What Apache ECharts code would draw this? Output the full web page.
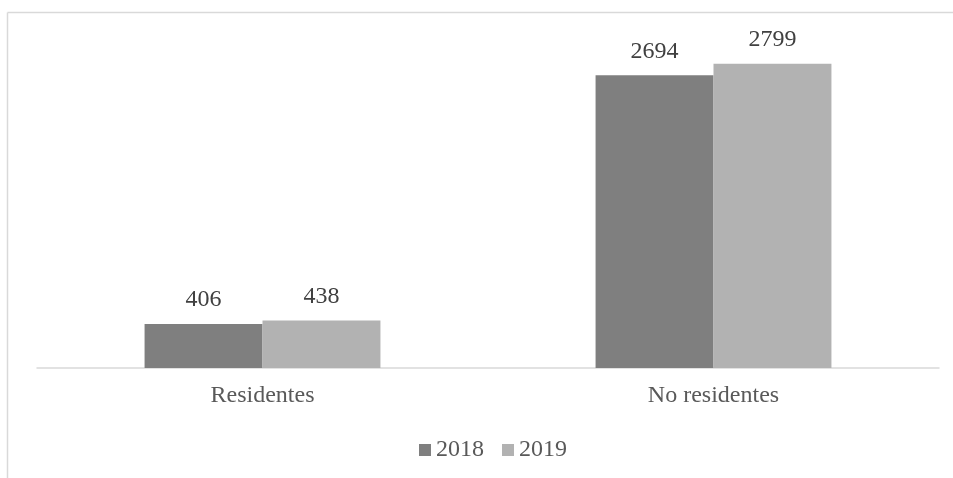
<!DOCTYPE html>
<html><head><meta charset="utf-8">
<script src="https://cdn.jsdelivr.net/npm/echarts@6/dist/echarts.min.js"></script>
<style>html,body{margin:0;padding:0;background:#fff}#c{width:953px;height:478px}</style>
</head><body><div id="c"></div>
<script>
const categories = ['Residentes', 'No residentes'];
const seriesNames = ['2018', '2019'];
const values2018 = [406, 2694];
const values2019 = [438, 2799];

const chart = echarts.init(document.getElementById('c'), null, {renderer: 'canvas'});
const font = '"Liberation Serif", "Times New Roman", serif';
const labelCfg = {show: true, position: 'top', distance: 12, color: '#404040', fontFamily: font, fontSize: 24};
chart.setOption({
  animation: false,
  backgroundColor: '#fff',
  graphic: [
    {type: 'line', shape: {x1: 7.5, y1: 12.5, x2: 953, y2: 12.5}, style: {stroke: '#d9d9d9', lineWidth: 1.5}},
    {type: 'line', shape: {x1: 7.5, y1: 12.5, x2: 7.5, y2: 478}, style: {stroke: '#d9d9d9', lineWidth: 1.5}}
  ],
  grid: {left: 37, right: 14, top: 42, bottom: 110, containLabel: false},
  legend: {
    bottom: 11, left: 414, itemWidth: 12, itemHeight: 12, itemGap: 18,
    icon: 'rect',
    textStyle: {fontFamily: font, fontSize: 24, color: '#595959'},
    data: seriesNames
  },
  xAxis: {
    type: 'category', data: categories,
    axisLine: {lineStyle: {color: '#d9d9d9', width: 1.5}},
    axisTick: {show: false},
    axisLabel: {margin: 16, color: '#595959', fontFamily: font, fontSize: 24}
  },
  yAxis: {type: 'value', min: 0, max: 3000, show: false, splitLine: {show: false}},
  series: [
    {name: seriesNames[0], type: 'bar', data: values2018, barGap: '0%', barCategoryGap: '47.7%',
     itemStyle: {color: '#7f7f7f'}, label: labelCfg},
    {name: seriesNames[1], type: 'bar', data: values2019, barGap: '0%', barCategoryGap: '47.7%',
     itemStyle: {color: '#b2b2b2'}, label: labelCfg}
  ]
});
</script></body></html>
